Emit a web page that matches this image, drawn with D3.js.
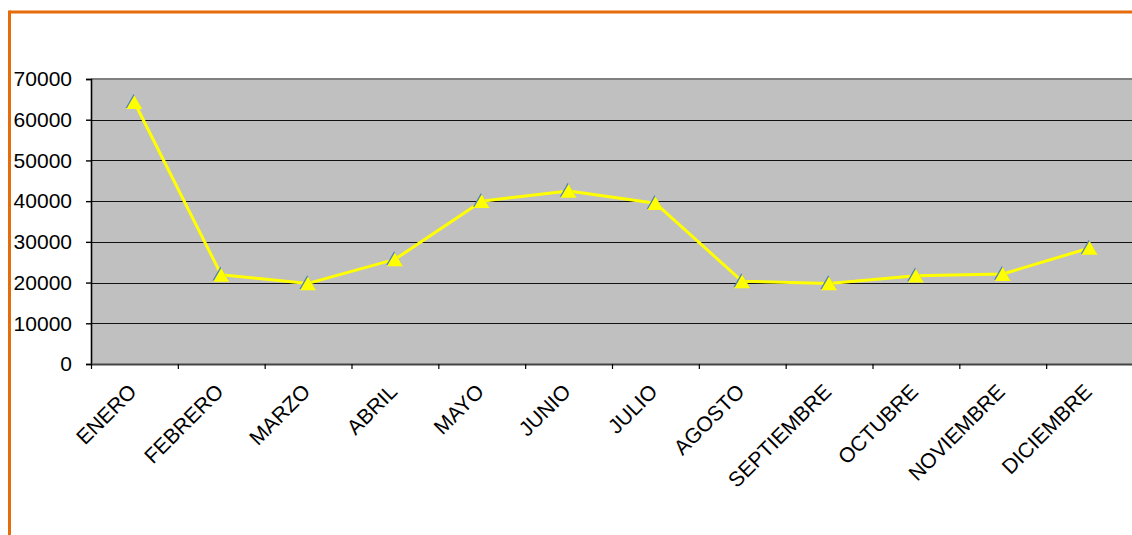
<!DOCTYPE html>
<html>
<head>
<meta charset="utf-8">
<script src="https://cdn.jsdelivr.net/npm/d3@7"></script>
<style>
  html, body { margin: 0; padding: 0; background: #fff; }
  svg { display: block; }
  text { font-family: "Liberation Sans", Arial, sans-serif; fill: #000; }
</style>
</head>
<body>
<svg id="chart" width="1132" height="535"></svg>
<script>
// Monthly totals
const months = ["ENERO", "FEBRERO", "MARZO", "ABRIL", "MAYO", "JUNIO",
                "JULIO", "AGOSTO", "SEPTIEMBRE", "OCTUBRE", "NOVIEMBRE", "DICIEMBRE"];
const values = [64300, 21900, 19800, 25700, 40000, 42500,
                39500, 20300, 19800, 21700, 22100, 28500];
const yTicks = [0, 10000, 20000, 30000, 40000, 50000, 60000, 70000];

const svg = d3.select("#chart");
const W = 1132, H = 535;
const plot = { left: 91, top: 79, right: 1133, bottom: 364 };
const fontSize = "21px";

// Orange frame (top and left edges)
svg.append("line").attr("x1", 9.5).attr("x2", W).attr("y1", 12).attr("y2", 12)
  .attr("stroke", "#E46C0A").attr("stroke-width", 3);
svg.append("line").attr("x1", 9.5).attr("x2", 9.5).attr("y1", 10.5).attr("y2", H)
  .attr("stroke", "#E46C0A").attr("stroke-width", 3);

const x = d3.scaleBand().domain(months).range([plot.left, plot.right]).padding(0);
const xIdx = d3.scaleLinear().domain([0, months.length]).range([plot.left, plot.right]);
const y = d3.scaleLinear().domain([0, 70000]).range([plot.bottom, plot.top]);

// Plot area background
svg.append("rect")
  .attr("x", plot.left).attr("y", plot.top)
  .attr("width", plot.right - plot.left).attr("height", plot.bottom - plot.top)
  .attr("fill", "#C0C0C0");

// Horizontal gridlines
svg.append("g").selectAll("line")
  .data(yTicks.filter(v => v > 0 && v < 70000))
  .join("line")
  .attr("x1", plot.left).attr("x2", plot.right)
  .attr("y1", d => Math.round(y(d)) + 0.5).attr("y2", d => Math.round(y(d)) + 0.5)
  .attr("stroke", "#111").attr("stroke-width", 1.2);

// Plot area top border
svg.append("line").attr("x1", plot.left).attr("x2", plot.right)
  .attr("y1", plot.top).attr("y2", plot.top)
  .attr("stroke", "#808080").attr("stroke-width", 2);

// Y axis
const yAxis = svg.append("g")
  .attr("transform", `translate(${plot.left},0)`)
  .call(d3.axisLeft(y).tickValues(yTicks).tickFormat(d3.format("d")).tickSize(5).tickPadding(14));
yAxis.select(".domain").attr("stroke", "#000").attr("stroke-width", 1.6);
yAxis.selectAll(".tick line").attr("stroke", "#000").attr("stroke-width", 1.4);
yAxis.selectAll(".tick text").style("font-size", fontSize)
  .style("font-family", "'Liberation Sans', Arial, sans-serif").attr("fill", "#000");

// X axis: ticks between categories
const xAxis = svg.append("g")
  .attr("transform", `translate(0,${plot.bottom})`)
  .call(d3.axisBottom(xIdx).tickValues(d3.range(0, months.length)).tickFormat("").tickSize(5).tickSizeOuter(0));
xAxis.select(".domain").attr("stroke", "#444").attr("stroke-width", 2);
xAxis.selectAll(".tick line").attr("stroke", "#000").attr("stroke-width", 1.2);

// Category labels, rotated
svg.append("g").selectAll("text")
  .data(months)
  .join("text")
  .attr("transform", d => `translate(${x(d) + x.bandwidth() / 2 + 3.5},${plot.bottom + 29}) rotate(-45)`)
  .attr("text-anchor", "end")
  .style("font-size", fontSize)
  .text(d => d);

// Series line
const cx = d => x(d) + x.bandwidth() / 2;
const line = d3.line().x((d, i) => cx(months[i])).y(d => y(d));
svg.append("path")
  .datum(values)
  .attr("d", line)
  .attr("fill", "none")
  .attr("stroke", "#FFFF00")
  .attr("stroke-width", 3)
  .attr("stroke-linejoin", "round");

// Triangle markers with a blue edge, centred on their bounding box
const triSize = 110;
const triSide = Math.sqrt(triSize * 4 / Math.sqrt(3));
const triShift = triSide * Math.sqrt(3) / 2 / 6;
const tri = d3.symbol().type(d3.symbolTriangle).size(triSize);
const markers = svg.append("g").selectAll("g")
  .data(values)
  .join("g")
  .attr("transform", (d, i) => `translate(${cx(months[i])},${y(d) + triShift})`);
markers.append("path").attr("d", tri).attr("transform", "translate(-0.8,-1.2)").attr("fill", "#4F81BD");
markers.append("path").attr("d", tri).attr("fill", "#FFFF00");
</script>
</body>
</html>
